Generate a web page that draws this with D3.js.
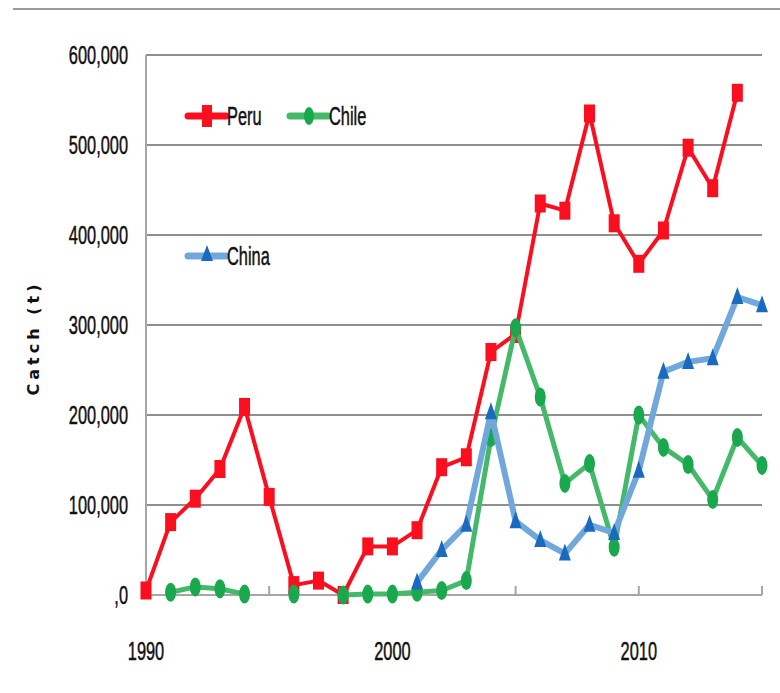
<!DOCTYPE html>
<html>
<head>
<meta charset="utf-8">
<script src="https://cdn.jsdelivr.net/npm/d3@7"></script>
<style>
  body { margin: 0; background: #fff; }
  text { font-family: "Liberation Sans", Arial, sans-serif; fill: #111; }
  .narrow { stroke: #111; stroke-width: 0.5px; }
</style>
</head>
<body>
<svg width="780" height="693"></svg>
<script>
// Catch by year (t); null = no point
var years = d3.range(1990, 2016);
var peru  = [5000, 81000, 107000, 140000, 209000, 109000, 11000, 16000, 0, 54000, 54000, 72000, 142000, 153000,
             270000, 290000, 435000, 427000, 535000, 413000, 368000, 405000, 497000, 452000, 558000, null];
var chile = [null, 3000, 9000, 7000, 1000, null, 1000, null, 0, 1000, 1000, 3000, 5000, 16000,
             175000, 297000, 220000, 124000, 146000, 53000, 200000, 164000, 145000, 106000, 175000, 144000];
var china = [null, null, null, null, null, null, null, null, null, null, null, 14000, 50000, 78000,
             203000, 82000, 61000, 46000, 78000, 69000, 138000, 248000, 259000, 263000, 331000, 322000];
var yTicks = [0, 100000, 200000, 300000, 400000, 500000, 600000];
var xLabels = [1990, 2000, 2010];
var xTickMarks = [1995, 2000, 2005, 2010, 2015];

var svg = d3.select("svg");

var x = d3.scaleLinear().domain([1990, 2015]).range([146, 762]);
var y = d3.scaleLinear().domain([0, 600000]).range([595, 55]);

// narrow, tall text like the original chart font
function narrowText(px, py, anchor, size, str) {
    svg.append("g")
        .attr("transform", "translate(" + px + "," + py + ") scale(0.63,1)")
      .append("text")
        .attr("class", "narrow")
        .attr("text-anchor", anchor)
        .style("font-size", size + "px")
        .text(str);
}

// top rule
svg.append("line")
    .attr("x1", 13).attr("x2", 780).attr("y1", 9).attr("y2", 9)
    .attr("stroke", "#9a9a9a").attr("stroke-width", 2);

// gridlines
svg.selectAll(".grid")
    .data(yTicks.slice(1))
  .enter().append("line")
    .attr("class", "grid")
    .attr("x1", x(1990)).attr("x2", x(2015))
    .attr("y1", d => y(d)).attr("y2", d => y(d))
    .attr("stroke", "#8f8f8f").attr("stroke-width", 2);

// y axis
var fmt = d3.format(",");
svg.append("line")
    .attr("x1", x(1990)).attr("x2", x(1990)).attr("y1", y(600000)).attr("y2", y(0))
    .attr("stroke", "#a6a6a6").attr("stroke-width", 2);
yTicks.forEach(function(d) {
    narrowText(128, y(d) + 9, "end", 26, d === 0 ? ",0" : fmt(d));
});

// x axis
svg.append("line")
    .attr("x1", x(1990)).attr("x2", x(2015)).attr("y1", y(0)).attr("y2", y(0))
    .attr("stroke", "#a6a6a6").attr("stroke-width", 2);
svg.selectAll(".xtick")
    .data(xTickMarks)
  .enter().append("line")
    .attr("class", "xtick")
    .attr("x1", d => x(d)).attr("x2", d => x(d))
    .attr("y1", y(0) - 9).attr("y2", y(0))
    .attr("stroke", "#a6a6a6").attr("stroke-width", 2);
xLabels.forEach(function(d) {
    narrowText(x(d), 660, "middle", 26, d);
});

// axis title
svg.append("text")
    .attr("transform", "translate(39,338) rotate(-90)")
    .attr("text-anchor", "middle")
    .style("font-family", "DejaVu Sans, sans-serif")
    .style("font-weight", "bold")
    .style("font-size", "16px")
    .style("letter-spacing", "4px")
    .text("Catch (t)");

function series(values) {
    return years.map((yr, i) => ({ year: yr, value: values[i] }));
}
var line = d3.line()
    .defined(d => d.value !== null)
    .x(d => x(d.year))
    .y(d => y(d.value));

// Peru
svg.append("path")
    .datum(series(peru))
    .attr("d", line)
    .attr("fill", "none").attr("stroke", "#fb0f1f").attr("stroke-width", 4)
    .attr("stroke-linejoin", "round");
svg.selectAll(".peru")
    .data(series(peru).filter(d => d.value !== null))
  .enter().append("rect")
    .attr("class", "peru")
    .attr("x", d => x(d.year) - 5.5).attr("y", d => y(d.value) - 9)
    .attr("width", 11).attr("height", 18)
    .attr("fill", "#fb0f1f");

// Chile
svg.append("path")
    .datum(series(chile))
    .attr("d", line)
    .attr("fill", "none").attr("stroke", "#45b96a").attr("stroke-width", 5)
    .attr("stroke-linejoin", "round");
svg.selectAll(".chile")
    .data(series(chile).filter(d => d.value !== null))
  .enter().append("ellipse")
    .attr("class", "chile")
    .attr("cx", d => x(d.year)).attr("cy", d => y(d.value))
    .attr("rx", 5.5).attr("ry", 9.5)
    .attr("fill", "#1aa84f");

// China
svg.append("path")
    .datum(series(china))
    .attr("d", line)
    .attr("fill", "none").attr("stroke", "#70a8dc").attr("stroke-width", 6)
    .attr("stroke-linejoin", "round");
svg.selectAll(".china")
    .data(series(china).filter(d => d.value !== null))
  .enter().append("path")
    .attr("class", "china")
    .attr("d", "M0,-10L6,7L-6,7Z")
    .attr("transform", d => "translate(" + x(d.year) + "," + y(d.value) + ")")
    .attr("fill", "#1a6bbf");

// legend
var legend = [
    { name: "Peru", x: 188, y: 116, line: "#fb0f1f", mark: "#fb0f1f", shape: "rect" },
    { name: "Chile", x: 290, y: 116, line: "#45b96a", mark: "#1aa84f", shape: "ellipse" },
    { name: "China", x: 188, y: 256, line: "#70a8dc", mark: "#1a6bbf", shape: "tri" }
];
legend.forEach(function(l) {
    var g = svg.append("g").attr("transform", "translate(" + l.x + "," + l.y + ")");
    g.append("line").attr("x1", 0).attr("x2", 38).attr("y1", 0).attr("y2", 0)
        .attr("stroke", l.line).attr("stroke-width", 7).attr("stroke-linecap", "round");
    if (l.shape === "rect") {
        g.append("rect").attr("x", 14).attr("y", -11).attr("width", 10).attr("height", 22).attr("fill", l.mark);
    } else if (l.shape === "ellipse") {
        g.append("ellipse").attr("cx", 19).attr("cy", 0).attr("rx", 5).attr("ry", 9).attr("fill", l.mark);
    } else {
        g.append("path").attr("d", "M19,-11L25,5L13,5Z").attr("fill", l.mark);
    }
    narrowText(l.x + 39, l.y + 9, "start", 26, l.name);
});
</script>
</body>
</html>
